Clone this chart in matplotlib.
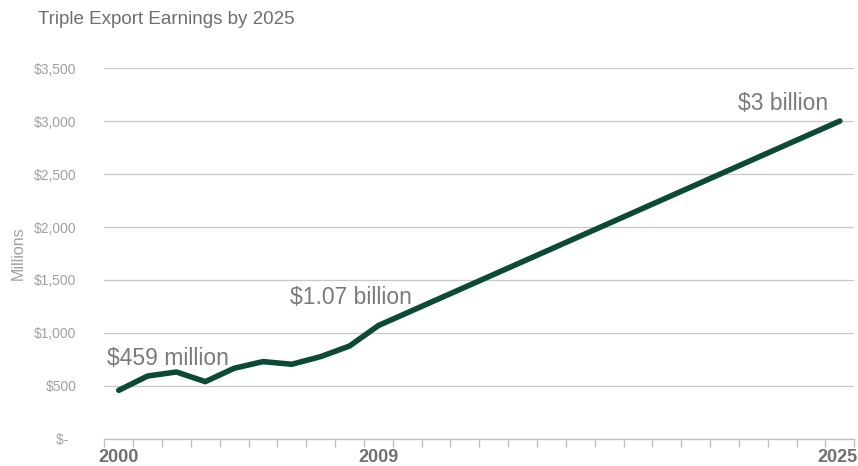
import matplotlib.pyplot as plt
import numpy as np

plt.rcParams['font.family'] = ['Liberation Sans', 'DejaVu Sans']

# export earnings, millions of dollars (2025 is the target)
years = [2000, 2001, 2002, 2003, 2004, 2005, 2006, 2007, 2008, 2009, 2025]
earnings = [459, 594, 632, 541, 667, 730, 705, 777, 877, 1070, 3000]

y_ticks = [0, 500, 1000, 1500, 2000, 2500, 3000, 3500]
y_labels = ['$-  ', '$500', '$1,000', '$1,500', '$2,000', '$2,500', '$3,000', '$3,500']
x_labelled = [2000, 2009, 2025]

callouts = [
    (2000, 459, '$459 million'),
    (2009, 1070, '$1.07 billion'),
    (2025, 3000, '$3 billion'),
]

fig = plt.figure(figsize=(8.58, 4.66), dpi=100)
ax = fig.add_axes([0.1216, 0.058, 0.8741, 0.796])

ax.plot(years, earnings, color='#0b4a36', lw=4.0, solid_capstyle='round',
        solid_joinstyle='round', zorder=3)

ax.set_xlim(1999.5, 2025.5)
ax.set_ylim(0, 3500)

ax.set_yticks(y_ticks)
ax.set_yticklabels(y_labels, color='#a0a0a0', fontsize=10)
ax.tick_params(axis='y', length=0, pad=20)
ax.yaxis.grid(True, color='#c8c8c8', lw=0.9)
ax.set_axisbelow(True)

# category-style ticks between years
ax.set_xticks(np.arange(1999.5, 2026, 1.0))
ax.set_xticklabels([])
ax.tick_params(axis='x', which='major', length=6, color='#c0c0c0', width=1)

# year labels only at a few years; the last one kept inside the figure
xt = ax.get_xaxis_transform()
for yr in x_labelled:
    ha = 'right' if yr == x_labelled[-1] else 'center'
    xx = yr + 0.62 if yr == x_labelled[-1] else yr
    ax.text(xx, -0.061, str(yr), transform=xt, ha=ha, va='baseline',
            fontsize=13, fontweight='bold', color='#707070')

for s in ['top', 'right', 'left']:
    ax.spines[s].set_visible(False)
ax.spines['bottom'].set_color('#c0c0c0')
ax.spines['bottom'].set_linewidth(1)

ax.set_ylabel('Millions', color='#a0a0a0', fontsize=11.5, labelpad=6)

# value callouts
ax.text(2000 - 0.4, 459 + 195, callouts[0][2], fontsize=16.5, color='#7a7a7a',
        ha='left', va='bottom')
ax.text(2009 - 3.05, 1070 + 155, callouts[1][2], fontsize=16.5, color='#7a7a7a',
        ha='left', va='bottom')
ax.text(2025 - 0.4, 3000 + 55, callouts[2][2], fontsize=16.5, color='#7a7a7a',
        ha='right', va='bottom')

fig.text(38 / 858, 1 - 20 / 466, 'Triple Export Earnings by 2025', fontsize=13.5,
         color='#6e6e6e', ha='left', va='center')

fig.savefig('out.png', dpi=100)
